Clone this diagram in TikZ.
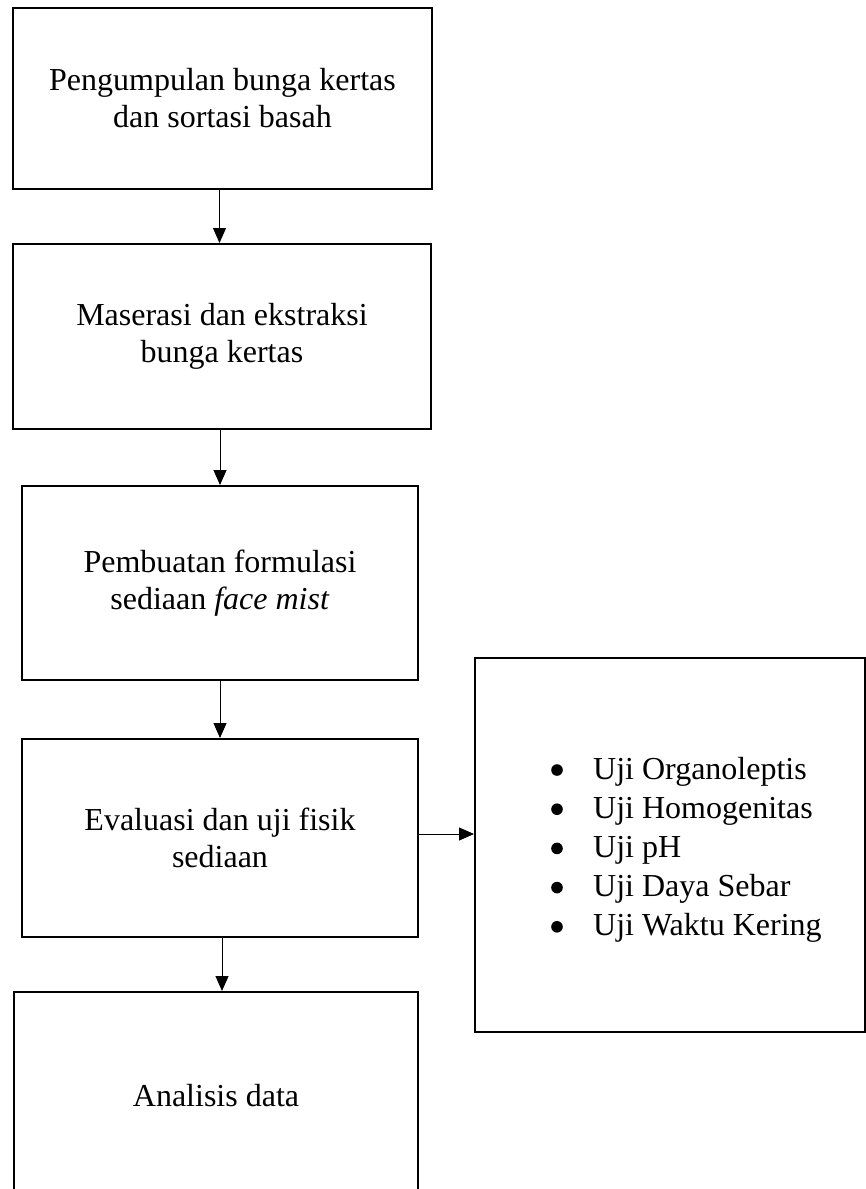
\documentclass[tikz,border=0pt]{standalone}
\usepackage{fontspec}
\setmainfont{Liberation Serif}
\usetikzlibrary{arrows.meta}
\begin{document}
\begin{tikzpicture}[x=1pt,y=-1pt,
  stepbox/.style={draw=black, line width=2pt, align=center, inner sep=0pt,
    font=\fontsize{32}{37}\selectfont},
  arr/.style={line width=1pt, -{Triangle[width=13pt,length=15pt]}},
  item/.style={anchor=base west, inner sep=0pt, font=\fontsize{32}{38}\selectfont}]
\useasboundingbox (0,0) rectangle (866,1189);
\node[stepbox, minimum width=419pt, minimum height=181pt] (b1) at (222.5,98.5)
  {Pengumpulan bunga kertas\\dan sortasi basah};
\node[stepbox, minimum width=418pt, minimum height=185pt] (b2) at (222,336.5)
  {Maserasi dan ekstraksi\\bunga kertas};
\node[stepbox, minimum width=396pt, minimum height=194pt] (b3) at (220,583)
  {Pembuatan formulasi\\sediaan \textit{face mist}};
\node[stepbox, minimum width=396pt, minimum height=198pt] (b4) at (220,838)
  {Evaluasi dan uji fisik\\sediaan};
\node[stepbox, minimum width=404pt, minimum height=208pt] (b5) at (216,1096)
  {Analisis data};
\node[stepbox, minimum width=390pt, minimum height=374pt] (r) at (670,845) {};
\foreach \t [count=\i] in {Uji Organoleptis, Uji Homogenitas, Uji pH, Uji Daya Sebar, Uji Waktu Kering}{
  \pgfmathsetmacro{\yb}{779+39.2*(\i-1)}
  \node[item] (it\i) at (593,\yb) {\t};
  \fill (557,\yb-9) circle (5.8pt);
}
\draw[arr] ([xshift=-3pt]b1.south) -- ([xshift=-3pt]b1.south |- b2.north);
\draw[arr] ([xshift=-2pt]b2.south) -- ([xshift=-2pt]b2.south |- b3.north);
\draw[arr] (b3.south) -- (b3.south |- b4.north);
\draw[arr] ([xshift=2pt]b4.south) -- ([xshift=2pt]b4.south |- b5.north);
\draw[arr] ([yshift=4pt]b4.east) -- ([yshift=4pt]b4.east -| r.west);
\end{tikzpicture}
\end{document}
